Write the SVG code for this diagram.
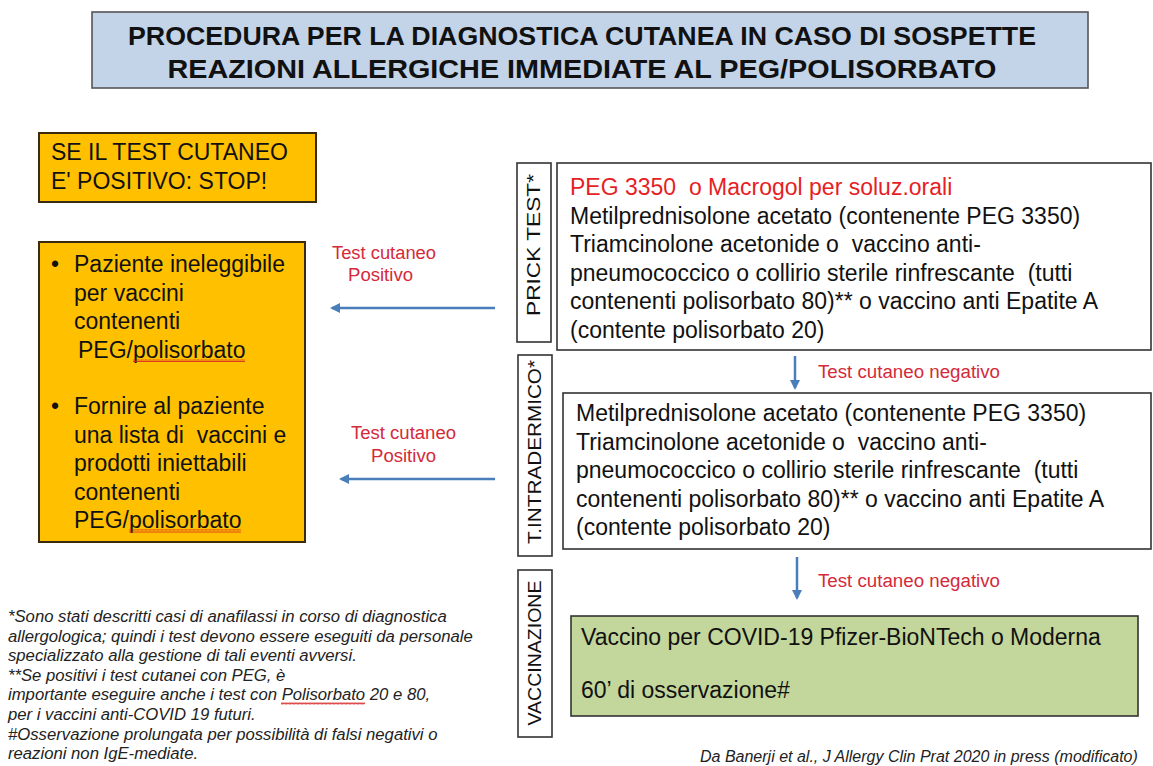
<svg xmlns="http://www.w3.org/2000/svg" width="1153" height="766" viewBox="0 0 1153 766">
<style>
.t{font-family:"Liberation Sans",Arial,sans-serif;font-size:23px;fill:#111}
.ttl{font-family:"Liberation Sans Narrow","Liberation Sans",Arial,sans-serif;font-size:26px;font-weight:bold;fill:#111}
.red{font-family:"Liberation Sans",Arial,sans-serif;font-size:18px;fill:#d42a3a}
.vl{font-family:"Liberation Sans Narrow","Liberation Sans",Arial,sans-serif;font-size:18px;fill:#111}
.fn{font-family:"Liberation Sans",Arial,sans-serif;font-size:16.7px;font-style:italic;fill:#222}
.box{fill:#fff;stroke:#333;stroke-width:1.6}
.orange{fill:#ffc000;stroke:#3a2a10;stroke-width:2}
.conn{stroke:#4a7ebb;stroke-width:2.5;fill:none}
</style>
<defs>
<marker id="ah" viewBox="0 0 10 10" refX="8" refY="5" markerWidth="4" markerHeight="4" orient="auto">
<path d="M0,0 L10,5 L0,10 z" fill="#4a7ebb"/>
</marker>
<pattern id="sq" width="4" height="3" patternUnits="userSpaceOnUse">
<path d="M0,2.5 L1,0.5 L2,2.5 L3,0.5 L4,2.5" stroke="#d42020" stroke-width="0.8" fill="none"/>
</pattern>
</defs>
<rect width="1153" height="766" fill="#fff"/>

<g id="title">
<rect x="92" y="12" width="996" height="76" fill="#c3d4e9" stroke="#555" stroke-width="1.6"/>
<text class="ttl" x="582" y="45" text-anchor="middle" textLength="908" lengthAdjust="spacingAndGlyphs">PROCEDURA PER LA DIAGNOSTICA CUTANEA IN CASO DI SOSPETTE</text>
<text class="ttl" x="582" y="78" text-anchor="middle" textLength="829" lengthAdjust="spacingAndGlyphs">REAZIONI ALLERGICHE IMMEDIATE AL PEG/POLISORBATO</text>
</g>

<g id="stop">
<rect x="39" y="133" width="277" height="69" class="orange"/>
<text class="t" x="51" y="160">SE IL TEST CUTANEO</text>
<text class="t" x="51" y="189">E' POSITIVO: STOP!</text>
</g>

<g id="esito">
<rect x="39" y="242" width="266" height="300" class="orange"/>
<text class="t" x="51" y="272">•</text>
<text class="t" x="74" y="272">Paziente ineleggibile</text>
<text class="t" x="74" y="300.5">per vaccini</text>
<text class="t" x="74" y="329">contenenti</text>
<text class="t" x="78" y="357.5">PEG/polisorbato</text>
<rect x="133" y="359" width="112" height="3" fill="url(#sq)"/>
<text class="t" x="51" y="414">•</text>
<text class="t" x="74" y="414">Fornire al paziente</text>
<text class="t" x="74" y="442.5" xml:space="preserve">una lista di  vaccini e</text>
<text class="t" x="74" y="471">prodotti iniettabili</text>
<text class="t" x="74" y="499.5">contenenti</text>
<text class="t" x="74" y="528">PEG/polisorbato</text>
<rect x="129" y="529.5" width="112" height="3" fill="url(#sq)"/>
</g>

<g id="lbl-prick">
<rect x="517" y="163" width="34" height="179" class="box"/>
<text class="vl" transform="translate(540,245) rotate(-90)" text-anchor="middle" textLength="142" lengthAdjust="spacingAndGlyphs">PRICK TEST*</text>
</g>
<g id="lbl-intra">
<rect x="518" y="355" width="34" height="201" class="box"/>
<text class="vl" transform="translate(541,452) rotate(-90)" text-anchor="middle" textLength="184" lengthAdjust="spacingAndGlyphs">T.INTRADERMICO*</text>
</g>
<g id="lbl-vacc">
<rect x="518" y="570" width="34" height="167" class="box"/>
<text class="vl" transform="translate(541,653) rotate(-90)" text-anchor="middle" textLength="145" lengthAdjust="spacingAndGlyphs">VACCINAZIONE</text>
</g>

<g id="prick">
<rect x="557" y="163" width="594" height="187" class="box"/>
<text class="t" x="570" y="195" style="fill:#e61e25" xml:space="preserve">PEG 3350  o Macrogol per soluz.orali</text>
<text class="t" x="570" y="223.5">Metilprednisolone acetato (contenente PEG 3350)</text>
<text class="t" x="570" y="252" xml:space="preserve">Triamcinolone acetonide o  vaccino anti-</text>
<text class="t" x="570" y="280.5" xml:space="preserve">pneumococcico o collirio sterile rinfrescante  (tutti</text>
<text class="t" x="570" y="309">contenenti polisorbato 80)** o vaccino anti Epatite A</text>
<text class="t" x="570" y="337.5">(contente polisorbato 20)</text>
</g>

<g id="intradermico">
<rect x="563" y="393" width="588" height="156" class="box"/>
<text class="t" x="576" y="421">Metilprednisolone acetato (contenente PEG 3350)</text>
<text class="t" x="576" y="449.5" xml:space="preserve">Triamcinolone acetonide o  vaccino anti-</text>
<text class="t" x="576" y="478" xml:space="preserve">pneumococcico o collirio sterile rinfrescante  (tutti</text>
<text class="t" x="576" y="506.5">contenenti polisorbato 80)** o vaccino anti Epatite A</text>
<text class="t" x="576" y="535">(contente polisorbato 20)</text>
</g>

<g id="vaccinazione">
<rect x="571" y="616" width="567" height="100" fill="#c3d69b" stroke="#333" stroke-width="1.6"/>
<text class="t" x="581" y="645">Vaccino per COVID-19 Pfizer-BioNTech o Moderna</text>
<text class="t" x="581" y="698">60’ di osservazione#</text>
</g>

<g id="connectors">
<line class="conn" x1="495" y1="308" x2="332" y2="308" marker-end="url(#ah)"/>
<line class="conn" x1="495" y1="479" x2="341" y2="479" marker-end="url(#ah)"/>
<line class="conn" x1="795" y1="356" x2="795" y2="388" marker-end="url(#ah)"/>
<line class="conn" x1="797" y1="557" x2="797" y2="598" marker-end="url(#ah)"/>
<text class="red" x="332" y="259" textLength="104" lengthAdjust="spacingAndGlyphs">Test cutaneo</text>
<text class="red" x="348" y="281" textLength="65" lengthAdjust="spacingAndGlyphs">Positivo</text>
<text class="red" x="351" y="439" textLength="105" lengthAdjust="spacingAndGlyphs">Test cutaneo</text>
<text class="red" x="371" y="462" textLength="65" lengthAdjust="spacingAndGlyphs">Positivo</text>
<text class="red" x="818" y="378" textLength="182" lengthAdjust="spacingAndGlyphs">Test cutaneo negativo</text>
<text class="red" x="818" y="587" textLength="182" lengthAdjust="spacingAndGlyphs">Test cutaneo negativo</text>
</g>

<g id="note">
<text class="fn" x="8" y="622">*Sono stati descritti casi di anafilassi in corso di diagnostica</text>
<text class="fn" x="8" y="641.6">allergologica; quindi i test devono essere eseguiti da personale</text>
<text class="fn" x="8" y="661.2">specializzato alla gestione di tali eventi avversi.</text>
<text class="fn" x="8" y="680.8">**Se positivi i test cutanei con PEG, è</text>
<text class="fn" x="8" y="700.4">importante eseguire anche i test con Polisorbato 20 e 80,</text>
<rect x="281" y="702" width="84" height="3" fill="url(#sq)"/>
<text class="fn" x="8" y="720">per i vaccini anti-COVID 19 futuri.</text>
<text class="fn" x="8" y="739.6">#Osservazione prolungata per possibilità di falsi negativi o</text>
<text class="fn" x="8" y="759.2">reazioni non IgE-mediate.</text>
</g>

<g id="citation">
<text class="fn" x="700" y="762" style="font-size:16px">Da Banerji et al., J Allergy Clin Prat 2020 in press (modificato)</text>
</g>
</svg>
